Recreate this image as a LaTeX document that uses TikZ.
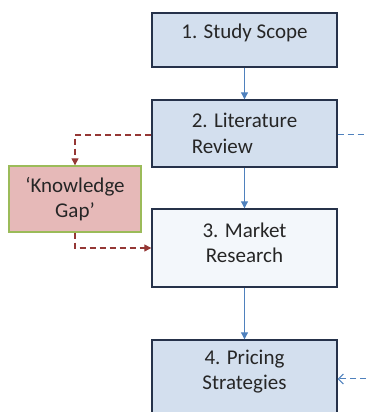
\documentclass[tikz,border=0pt]{standalone}
\usepackage{fontspec}
\setmainfont{Carlito}
\usetikzlibrary{arrows.meta}
\definecolor{boxblue}{HTML}{D3DFEE}
\definecolor{boxpale}{HTML}{F3F7FB}
\definecolor{boxline}{HTML}{26324A}
\definecolor{flowblue}{HTML}{4F81BD}
\definecolor{gapfill}{HTML}{E6B9B8}
\definecolor{gapedge}{HTML}{9BBB59}
\definecolor{gapred}{HTML}{953735}
\definecolor{inktext}{HTML}{262626}
\begin{document}
\begin{tikzpicture}[x=1pt,y=1pt,
  every node/.style={font=\fontsize{21}{25.5}\selectfont,text=inktext},
  box/.style={draw=boxline,line width=1.4pt,minimum width=185pt,align=center,inner sep=0pt},
  flow/.style={-{Triangle[length=7pt,width=7pt]},line width=1pt,draw=flowblue},
  gapline/.style={-{Triangle[length=7pt,width=7pt]},line width=1.3pt,draw=gapred,dash pattern=on 6pt off 4pt},
  linkline/.style={line width=1pt,draw=flowblue,dash pattern=on 6pt off 4pt}]
  \useasboundingbox (0,0) rectangle (366,412);
  \node[box,fill=boxblue,minimum height=54pt,text depth=18pt] (scope) at (244.5,372) {1. Study Scope};
  \node[box,fill=boxblue,minimum height=67pt,align=left] (review) at (244.5,278.5) {2. Literature\\Review};
  \node[box,fill=boxpale,minimum height=78pt,text depth=11pt] (market) at (244.5,164) {3. Market\\Research};
  \node[box,fill=boxblue,minimum height=90pt,text depth=30pt] (pricing) at (244.5,27) {4. Pricing\\Strategies};
  \node[draw=gapedge,fill=gapfill,line width=1.4pt,minimum width=132pt,minimum height=66pt,align=center,inner sep=0pt] (gap) at (75,213) {‘Knowledge\\Gap’};
  \coordinate (outR) at (366,277);
  \coordinate (inR) at (366,33);
  \draw[flow] (scope) -- (review);
  \draw[flow] (review) -- (market);
  \draw[flow] (market) -- (pricing);
  \draw[gapline] ([yshift=-1.5pt]review.west) -| (gap.north);
  \draw[gapline] (gap.south) |- (market.west);
  \draw[linkline] ([yshift=-1.5pt]review.east) -- (outR);
  \draw[linkline,-{Straight Barb[length=5pt,width=10pt]}] (inR) -- (pricing.east |- inR);
\end{tikzpicture}
\end{document}
